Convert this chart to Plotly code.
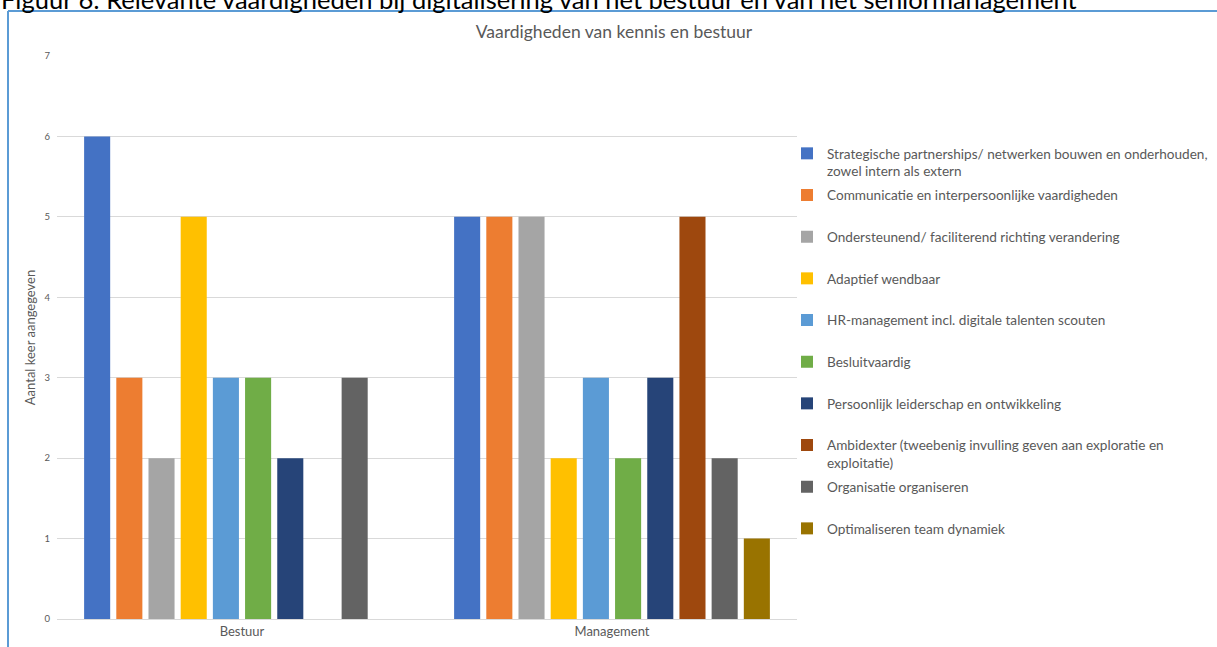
import plotly.graph_objects as go

# Data
groups = ["Bestuur", "Management"]
skills = [
    "Strategische partnerships/ netwerken bouwen en onderhouden,<br>zowel intern als extern",
    "Communicatie en interpersoonlijke vaardigheden",
    "Ondersteunend/ faciliterend richting verandering",
    "Adaptief wendbaar",
    "HR-management incl. digitale talenten scouten",
    "Besluitvaardig",
    "Persoonlijk leiderschap en ontwikkeling",
    "Ambidexter (tweebenig invulling geven aan exploratie en<br>exploitatie)",
    "Organisatie organiseren",
    "Optimaliseren team dynamiek",
]
bestuur = [6, 3, 2, 5, 3, 3, 2, 0, 3, 0]
management = [5, 5, 5, 2, 3, 2, 3, 5, 2, 1]
colors = ["#4472C4", "#ED7D31", "#A5A5A5", "#FFC000", "#5B9BD5",
          "#70AD47", "#264478", "#9E480E", "#636363", "#997300"]
y_ticks = [0, 1, 2, 3, 4, 5, 6, 7]

W, H = 1217, 647
ML, MR, MT, MB = 57, 420, 56, 28
PW, PH = W - ML - MR, H - MT - MB

def px_x(p):
    return (p - ML) / PW

def px_y(p):
    return (H - MB - p) / PH

FONT = "Lato, 'Open Sans', sans-serif"
GREY = "#595959"

fig = go.Figure()
layout_legends = {}
for i, (name, col) in enumerate(zip(skills, colors)):
    key = "legend" if i == 0 else f"legend{i + 1}"
    fig.add_trace(go.Bar(
        x=groups, y=[bestuur[i], management[i]], name=name,
        marker=dict(color=col, line=dict(width=0)),
        legend=key, hoverinfo="x+y+name",
    ))
    layout_legends[key] = dict(
        x=px_x(787), xanchor="left",
        y=px_y(153 + i * 41.67 - 15), yanchor="top",
        valign="top", bgcolor="rgba(0,0,0,0)",
        font=dict(family=FONT, size=13.6, color=GREY),
    )

fig.update_layout(
    width=W, height=H,
    margin=dict(l=ML, r=MR, t=MT, b=MB, autoexpand=False),
    paper_bgcolor="white", plot_bgcolor="white",
    barmode="group", bargap=0.13, bargroupgap=0.19,
    font=dict(family=FONT, color=GREY),
    title=dict(text="Vaardigheden van kennis en bestuur",
               x=px_x(614), xanchor="center", xref="paper",
               y=1 - 32 / H, yanchor="middle",
               font=dict(family=FONT, size=17.5, color=GREY)),
    xaxis=dict(showgrid=False, showline=False, ticks="",
               ticklabelstandoff=3,
               tickfont=dict(family=FONT, size=13, color=GREY)),
    yaxis=dict(range=[0, 7], tickvals=y_ticks, showline=False, ticks="",
               gridcolor="#D9D9D9", gridwidth=1,
               zeroline=True, zerolinecolor="#D9D9D9", zerolinewidth=1,
               tickfont=dict(family=FONT, size=9.5, color=GREY),
               ticklabelstandoff=6,
               title=dict(text="Aantal keer aangegeven", standoff=5,
                          font=dict(family=FONT, size=13, color=GREY))),
    showlegend=True,
    **layout_legends,
)

# Frame around the chart and the caption running above it
fig.add_shape(type="line", xref="paper", yref="paper",
              x0=px_x(8), x1=px_x(1217), y0=px_y(11), y1=px_y(11),
              line=dict(color="#5B9BD5", width=2))
fig.add_shape(type="line", xref="paper", yref="paper",
              x0=px_x(8), x1=px_x(8), y0=px_y(11), y1=px_y(700),
              line=dict(color="#5B9BD5", width=2))
fig.add_annotation(
    text="Figuur 6: Relevante vaardigheden bij digitalisering van het bestuur en van het seniormanagement",
    xref="paper", yref="paper", x=px_x(-1), y=px_y(16),
    xanchor="left", yanchor="bottom", showarrow=False,
    font=dict(family=FONT, size=25.5, color="black"),
)

fig.write_html("out.html")
